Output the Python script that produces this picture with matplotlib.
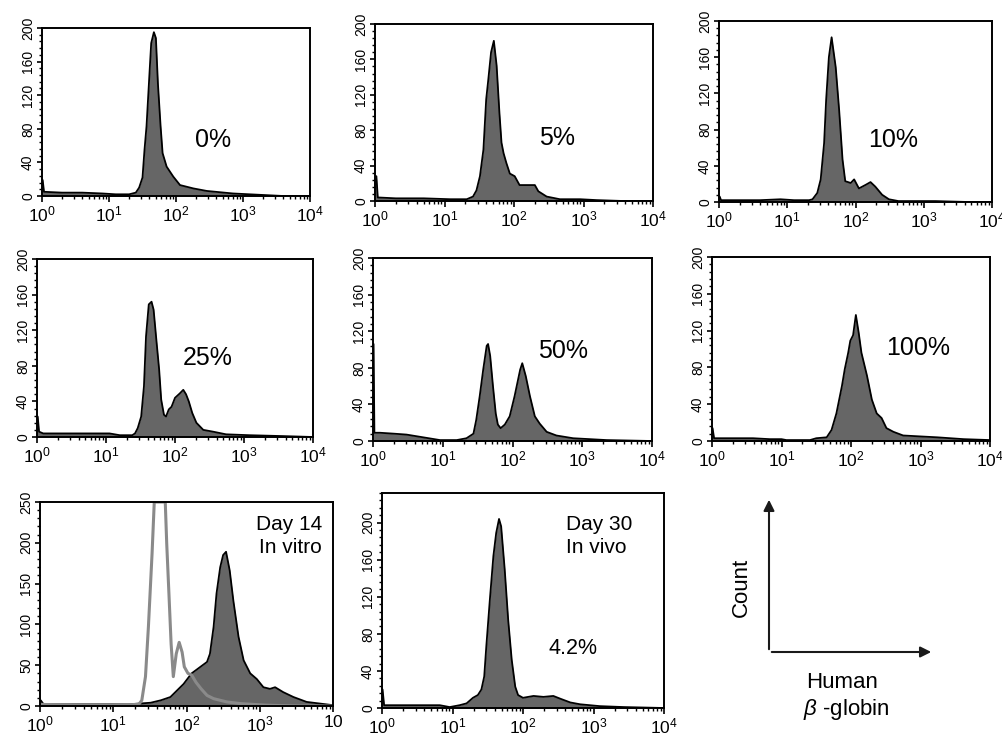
import numpy as np
import matplotlib
matplotlib.use("Agg")
import matplotlib.pyplot as plt
from matplotlib.ticker import FixedLocator, MultipleLocator, LogLocator, NullFormatter
from matplotlib.patches import FancyArrowPatch

plt.rcParams['font.family'] = ['Liberation Sans', 'DejaVu Sans']
plt.rcParams['mathtext.fontset'] = 'custom'
plt.rcParams['mathtext.rm'] = 'Liberation Sans'
plt.rcParams['mathtext.it'] = 'Liberation Sans:italic'

W, H = 1002, 735

# --------------------------------
# DATA (log10 fluorescence, counts)
# --------------------------------
p1_log = [0.0, 0.01, 0.03, 0.3, 0.6, 0.9, 1.1, 1.3, 1.40, 1.45, 1.50, 1.53, 1.56, 1.61, 1.63, 1.67,
          1.70, 1.73, 1.77, 1.80, 1.86, 1.96, 2.06, 2.26, 2.46, 2.85, 3.35, 3.6, 4.0]
p1_cnt = [19, 19, 5, 4, 4, 3, 2, 2, 4, 10, 22, 55, 83, 154, 182, 195,
          188, 134, 83, 51, 35, 23, 13, 9, 6, 3, 1, 0, 0]

p2_log = [0.0, 0.02, 0.04, 0.3, 0.7, 1.08, 1.32, 1.41, 1.46, 1.51, 1.56, 1.60, 1.63, 1.67, 1.71,
          1.75, 1.79, 1.82, 1.85, 1.89, 1.94, 2.01, 2.08, 2.18, 2.30, 2.35, 2.47, 2.66, 2.95, 3.19, 3.57, 4.0]
p2_cnt = [28, 28, 4, 3, 3, 2, 2, 5, 12, 28, 58, 115, 137, 168, 181,
          153, 100, 66, 54, 43, 31, 28, 18, 18, 18, 11, 5, 2, 2, 1, 0, 0]

p3_log = [0.0, 0.01, 0.03, 0.3, 0.6, 0.9, 1.1, 1.32, 1.37, 1.44, 1.49, 1.54, 1.57, 1.61, 1.65, 1.67,
          1.71, 1.76, 1.81, 1.85, 1.93, 1.98, 2.05, 2.15, 2.22, 2.29, 2.39, 2.49, 2.63, 3.17, 3.65, 4.0]
p3_cnt = [6, 6, 2, 2, 2, 3, 2, 2, 3, 10, 25, 65, 113, 160, 182, 171,
          149, 102, 47, 23, 21, 25, 15, 19, 22, 17, 8, 3, 1, 1, 0, 0]

p4_log = [0.0, 0.01, 0.03, 0.09, 0.5, 1.05, 1.2, 1.38, 1.42, 1.46, 1.51, 1.55, 1.58, 1.62, 1.66,
          1.69, 1.73, 1.77, 1.80, 1.84, 1.87, 1.91, 1.95, 2.00, 2.07, 2.12, 2.16, 2.20, 2.25, 2.31,
          2.41, 2.55, 2.74, 3.08, 3.57, 4.0]
p4_cnt = [23, 23, 6, 4, 4, 4, 2, 2, 4, 10, 23, 57, 113, 149, 152,
          143, 109, 76, 42, 25, 23, 31, 34, 44, 49, 53, 48, 40, 27, 16,
          8, 6, 3, 2, 1, 0]

p5_log = [0.0, 0.008, 0.02, 0.1, 0.3, 0.48, 0.72, 0.96, 1.20, 1.34, 1.44, 1.48, 1.53, 1.58, 1.63,
          1.65, 1.68, 1.72, 1.76, 1.79, 1.83, 1.89, 1.96, 2.03, 2.11, 2.14, 2.19, 2.25, 2.32, 2.39,
          2.49, 2.63, 2.87, 3.35, 4.0]
p5_cnt = [106, 106, 9, 9, 8, 7, 4, 1, 1, 3, 8, 23, 49, 78, 104,
          106, 93, 60, 30, 18, 14, 18, 27, 49, 78, 85, 71, 49, 27, 19,
          10, 6, 3, 1, 0]

p6_log = [0.0, 0.008, 0.03, 0.3, 0.59, 0.83, 1.0, 1.07, 1.41, 1.50, 1.65, 1.72, 1.79, 1.87, 1.91,
          1.96, 1.99, 2.03, 2.07, 2.11, 2.15, 2.23, 2.30, 2.37, 2.44, 2.51, 2.61, 2.75, 2.99, 3.24,
          3.62, 4.0]
p6_cnt = [14, 14, 3, 3, 3, 2, 2, 1, 1, 3, 4, 12, 30, 60, 78,
          96, 109, 115, 137, 118, 96, 71, 45, 30, 25, 14, 10, 6, 5, 4,
          2, 1]

# Day 14 in vitro: filled sample and grey open control
p7_log = [0.0, 0.01, 0.05, 0.6, 1.2, 1.51, 1.65, 1.78, 1.87, 1.96, 2.07, 2.19, 2.28, 2.32, 2.37,
          2.41, 2.46, 2.50, 2.54, 2.59, 2.64, 2.71, 2.78, 2.87, 2.96, 3.05, 3.14, 3.21, 3.32, 3.46,
          3.64, 3.82, 4.0]
p7_cnt = [7, 7, 2, 2, 2, 4, 7, 11, 19, 27, 40, 48, 54, 64, 97,
          138, 170, 185, 189, 166, 129, 85, 56, 40, 33, 23, 21, 23, 17, 11,
          5, 3, 1]
p7c_log = [0.0, 0.5, 1.0, 1.35, 1.39, 1.44, 1.48, 1.53, 1.56, 1.71, 1.73, 1.76, 1.79, 1.82, 1.86,
           1.90, 1.94, 1.97, 2.02, 2.07, 2.13, 2.20, 2.28, 2.37, 2.55, 2.73, 3.09, 3.5, 4.0]
p7c_cnt = [2, 1, 1, 2, 7, 36, 97, 187, 250, 250, 199, 138, 76, 36, 64,
           78, 66, 48, 40, 38, 29, 21, 13, 9, 5, 3, 1, 0, 0]

p8_log = [0.0, 0.008, 0.03, 0.3, 0.82, 0.96, 1.10, 1.20, 1.29, 1.36, 1.41, 1.45, 1.48, 1.53, 1.58,
          1.62, 1.66, 1.69, 1.74, 1.79, 1.84, 1.89, 1.93, 2.00, 2.15, 2.29, 2.43, 2.53, 2.67, 2.81,
          3.09, 3.43, 4.0]
p8_cnt = [20, 20, 3, 3, 3, 1, 3, 5, 11, 14, 20, 34, 67, 117, 164,
          189, 204, 196, 150, 95, 52, 23, 14, 11, 13, 12, 13, 10, 6, 4,
          2, 1, 0]

labels = ['0%', '5%', '10%', '25%', '50%', '100%']
decade_labels = ['$10^0$', '$10^1$', '$10^2$', '$10^3$', '$10^4$']

# axes boxes in pixels: left, right, top, bottom
boxes = [(42, 310, 28, 196), (375, 653, 24, 201), (719, 992, 21, 202),
         (37, 313, 259, 437), (373, 652, 258, 441), (712, 990, 257, 441),
         (40, 333, 502, 706), (382, 664, 493, 708)]

FILL = '#666666'


def px(x, y):
    return x / W, 1 - y / H


def make_axes(fig, box, ymax, ystep, yminor):
    l, r, t, b = box
    ax = fig.add_axes([l / W, 1 - b / H, (r - l) / W, (b - t) / H])
    ax.set_xscale('log')
    ax.set_xlim(1, 1e4)
    ax.set_ylim(0, ymax)
    ax.xaxis.set_major_locator(FixedLocator([1, 10, 100, 1000, 10000]))
    ax.set_xticklabels(decade_labels)
    ax.xaxis.set_minor_locator(LogLocator(base=10, subs=np.arange(2, 10)))
    ax.xaxis.set_minor_formatter(NullFormatter())
    ax.yaxis.set_major_locator(MultipleLocator(ystep))
    ax.yaxis.set_minor_locator(MultipleLocator(yminor))
    for lab in ax.get_yticklabels():
        lab.set_rotation(90)
        lab.set_va('center')
    ax.tick_params(axis='y', which='major', labelsize=10, length=3.5, width=1.2, pad=1.5)
    ax.tick_params(axis='x', which='major', labelsize=12.5, length=4, width=1.2, pad=2)
    ax.tick_params(which='minor', length=2.2, width=1)
    for s in ax.spines.values():
        s.set_linewidth(1.4)
    return ax


def draw_hist(ax, logs, counts):
    x = 10 ** np.array(logs)
    y = np.array(counts)
    ax.fill_between(x, y, color=FILL, lw=0)
    ax.plot(x, y, color='black', lw=1.3)


fig = plt.figure(figsize=(W / 100, H / 100), dpi=100)

series = [(p1_log, p1_cnt), (p2_log, p2_cnt), (p3_log, p3_cnt),
          (p4_log, p4_cnt), (p5_log, p5_cnt), (p6_log, p6_cnt)]
label_pos = [(213, 140), (557, 138), (893, 140), (208, 358), (563, 351), (918, 348)]

for i in range(6):
    ax = make_axes(fig, boxes[i], 200, 40, 8)
    draw_hist(ax, *series[i])
    fig.text(*px(*label_pos[i]), labels[i], fontsize=18, ha='center', va='center')

# Day 14 panel
ax7 = make_axes(fig, boxes[6], 250, 50, 10)
ax7.set_xticklabels(decade_labels[:4] + ['$10$'])
draw_hist(ax7, p7_log, p7_cnt)
ax7.plot(10 ** np.array(p7c_log), p7c_cnt, color='#8a8a8a', lw=2.2)
fig.text(*px(322, 536), 'Day 14\nIn vitro', fontsize=15, ha='right', va='center',
         linespacing=1.3)

# Day 30 panel
ax8 = make_axes(fig, boxes[7], 232, 40, 8)
draw_hist(ax8, p8_log, p8_cnt)
fig.text(*px(566, 536), 'Day 30\nIn vivo', fontsize=15, ha='left', va='center',
         linespacing=1.3)
fig.text(*px(573, 648), '4.2%', fontsize=15.5, ha='center', va='center')

# Axis key
for end in [(769, 497), (934, 652)]:
    arr = FancyArrowPatch(px(769, 652), px(*end), transform=fig.transFigure,
                          arrowstyle='-|>', mutation_scale=16, lw=1.5, color='#1a1a1a')
    fig.add_artist(arr)
fig.text(*px(741, 587), 'Count', fontsize=16, rotation=90, ha='center', va='center')
fig.text(*px(842, 682), 'Human', fontsize=16, ha='center', va='center')
fig.text(*px(846, 710), r'$\beta$ -globin', fontsize=16, ha='center', va='center')

fig.savefig('out.png', dpi=100)
